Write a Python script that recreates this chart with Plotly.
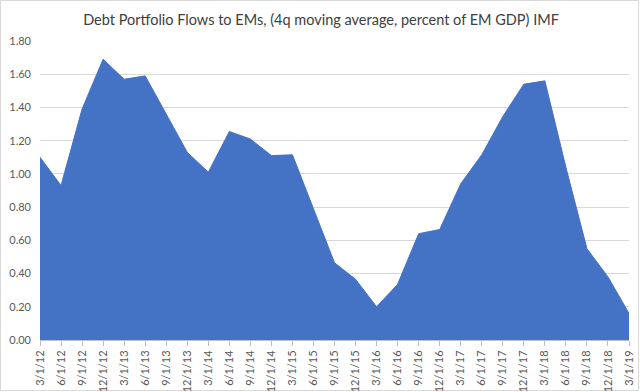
import plotly.graph_objects as go

dates = ["3/1/12", "6/1/12", "9/1/12", "12/1/12", "3/1/13", "6/1/13", "9/1/13", "12/1/13",
         "3/1/14", "6/1/14", "9/1/14", "12/1/14", "3/1/15", "6/1/15", "9/1/15", "12/1/15",
         "3/1/16", "6/1/16", "9/1/16", "12/1/16", "3/1/17", "6/1/17", "9/1/17", "12/1/17",
         "3/1/18", "6/1/18", "9/1/18", "12/1/18", "3/1/19"]
flows = [1.10, 0.93, 1.39, 1.69, 1.57, 1.59, 1.36, 1.13,
         1.01, 1.255, 1.21, 1.11, 1.115, 0.79, 0.465, 0.365,
         0.20, 0.335, 0.64, 0.665, 0.94, 1.115, 1.345, 1.54,
         1.56, 1.04, 0.55, 0.38, 0.16]
yticks = [0.0, 0.2, 0.4, 0.6, 0.8, 1.0, 1.2, 1.4, 1.6, 1.8]

W, H = 640, 392
L, R, T, B = 40, 11, 41, 52

fig = go.Figure()
fig.add_trace(go.Scatter(
    x=dates, y=flows, mode="lines", fill="tozeroy",
    line=dict(color="#4472C4", width=1), fillcolor="#4472C4",
    hoverinfo="x+y",
))

pw = W - L - R
ph = H - T - B
fig.add_shape(type="rect", xref="paper", yref="paper",
              x0=(0.5 - L) / pw, x1=(W - 1.5 - L) / pw,
              y0=-(H - 1.5 - T - ph) / ph, y1=1 + (T - 0.5) / ph,
              line=dict(color="#D9D9D9", width=1), fillcolor="rgba(0,0,0,0)", layer="below")

fig.update_layout(
    width=W, height=H,
    margin=dict(l=L, r=R, t=T, b=B, autoexpand=False),
    paper_bgcolor="white", plot_bgcolor="white",
    font=dict(family="Lato, Open Sans, sans-serif", color="#595959", size=11),
    title=dict(text="Debt Portfolio Flows to EMs, (4q moving average, percent of EM GDP) IMF",
               x=(321 - L) / pw, xref="paper", xanchor="center", y=1 - 20 / H, yanchor="middle",
               font=dict(size=14.5, color="#404040", family="Lato, Open Sans, sans-serif")),
    showlegend=False,
    xaxis=dict(type="category", range=[0, len(dates) - 1], tickangle=-90, automargin=False,
               showgrid=False, showline=True, linecolor="#BFBFBF", linewidth=1,
               ticks="outside", ticklen=5, tickcolor="#BFBFBF",
               tickfont=dict(size=11, color="#595959")),
    yaxis=dict(range=[0, 1.8], tickvals=yticks, tickformat=".2f", automargin=False,
               showgrid=True, gridcolor="#D9D9D9", gridwidth=1,
               zeroline=False, showline=False, ticks="", ticklabelstandoff=8,
               tickfont=dict(size=11, color="#595959")),
)

fig.write_html("out.html", config={"displayModeBar": False},
               post_script="document.body.style.margin='0';document.body.style.overflow='hidden';")
